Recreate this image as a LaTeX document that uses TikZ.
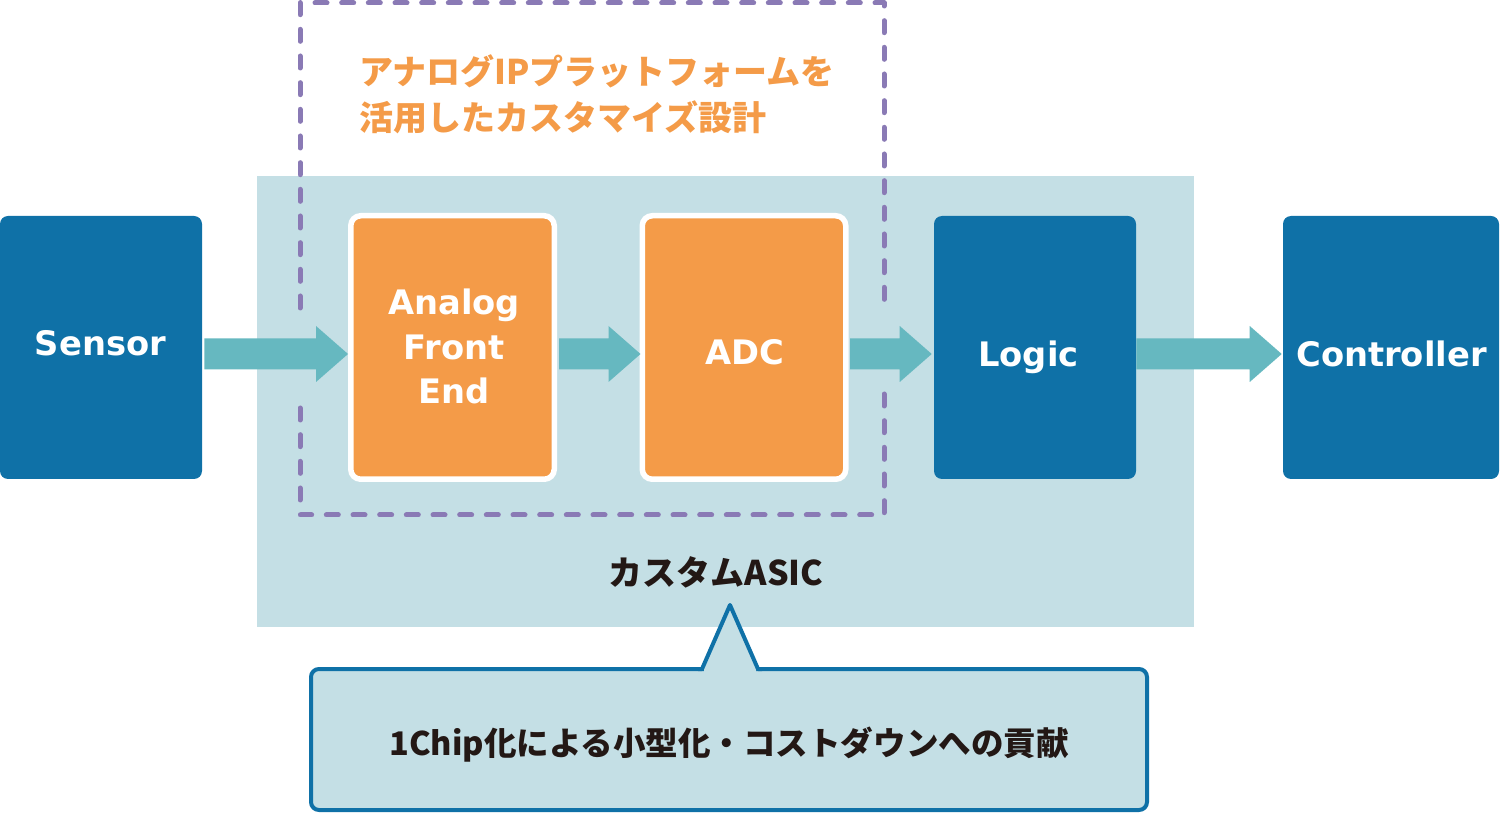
\documentclass[tikz,border=0pt]{standalone}
\usepackage{fontspec}
\newfontfamily\enfont{DejaVu Sans}
\newfontfamily\jpfont{Noto Sans CJK JP}
\usetikzlibrary{calc}
\definecolor{blk}{HTML}{0F71A7}
\definecolor{org}{HTML}{F49B48}
\definecolor{flowc}{HTML}{66B8C0}
\definecolor{asicc}{HTML}{C4DFE5}
\definecolor{pur}{HTML}{8A7AB5}
\definecolor{ink}{HTML}{231815}
\newdimen\px \px=0.75pt
% block arrow from #1 (start x) to #2 (tip), at the height of #2
\newcommand{\flowarrow}[2]{%
  \fill[flowc] let \p1=(#1), \p2=(#2) in
    (\x1,\y2+11.625pt) -- (\x2-24pt,\y2+11.625pt) -- (\x2-24pt,\y2+21pt) --
    (\x2,\y2) -- (\x2-24pt,\y2-21pt) -- (\x2-24pt,\y2-11.625pt) --
    (\x1,\y2-11.625pt) -- cycle;}
\begin{document}
\begin{tikzpicture}[x=0.75pt,y=-0.75pt,
  box/.style={rounded corners=8\px, inner sep=0pt, minimum height=263\px},
  bluebox/.style={box, fill=blk},
  orangebox/.style={box, fill=org, draw=white, line width=5.5\px,
    rounded corners=10\px, minimum height=263.5\px, minimum width=203.5\px},
  wlabel/.style={font=\enfont\bfseries\fontsize{25.3}{33.4}\selectfont,
    text=white, inner sep=0pt, anchor=base, align=center},
  jp/.style={font=\jpfont\bfseries\fontsize{25.5}{34.5}\selectfont, inner sep=0pt},
  dashbox/.style={draw=pur, line width=5\px, dash pattern=on 9pt off 11pt,
    line cap=round, line join=round},
  asicbox/.style={fill=asicc, inner sep=0pt, minimum width=937\px, minimum height=451\px},
  calloutbox/.style={draw=blk, fill=asicc, line width=4\px, rounded corners=8\px,
    minimum width=836\px, minimum height=141\px, inner sep=0pt,
    font=\jpfont\bfseries\fontsize{24.4}{30}\selectfont, text=ink,
    text height=31\px, text depth=0pt},
]
\useasboundingbox (0,0) rectangle (1500,816);

% custom ASIC background
\node[asicbox] (asic) at (725.5,401.5) {};

% analog IP platform dashed frame
\draw[dashbox] (300,308) -- (300,3) -- (884,3) -- (884,308)
               (884,394) -- (884,515) -- (300,515) -- (300,394);
\node[jp, text=org, anchor=base west, align=left] (iptext) at (359,131)
  {アナログIPプラットフォームを\\活用したカスタマイズ設計};

% blocks
\node[bluebox, minimum width=202\px] (sensor) at (101,347.5) {};
\node[orangebox] (afe) at (452.5,347.5) {};
\node[orangebox] (adc) at (744,347.5) {};
\node[bluebox, minimum width=202\px] (logic) at (1035,347.5) {};
\node[bluebox, minimum width=216\px] (ctrl) at (1391,347.5) {};

\node[wlabel] (sensortext) at (100.5,356) {Sensor};
\node[wlabel] (afetext) at (454,404) {Analog\\Front\\End};
\node[wlabel] (adctext) at (745,365) {ADC};
\node[wlabel] (logictext) at (1028.5,366.5) {Logic};
\node[wlabel] (ctrltext) at (1391.5,367) {Controller};

% flow arrows
\flowarrow{$(sensor.east)+(2,6.5)$}{$(afe.west)+(0,6.5)$}
\flowarrow{$(afe.east)+(2,6.5)$}{$(adc.west)+(1,6.5)$}
\flowarrow{$(adc.east)+(1.5,6.5)$}{$(logic.west)+(-2,6.5)$}
\flowarrow{$(logic.east)+(0,6.5)$}{$(ctrl.west)+(-1,6.5)$}

\node[jp, text=ink, anchor=base] (asictext) at (716,585) {カスタムASIC};

% callout
\node[calloutbox] (callout) at (729,739.5) {1Chip化による小型化・コストダウンへの貢献};
\fill[asicc] ($(callout.north)+(-25,5.5)$) -- ($(callout.north)+(-25,0)$)
  -- ($(callout.north)+(1,-60)$) -- ($(callout.north)+(27,0)$)
  -- ($(callout.north)+(27,5.5)$) -- cycle;
\draw[blk, line width=4\px, line join=round]
  ($(callout.north)+(-31,2)$) -- ($(callout.north)+(-27,2)$)
  -- ($(callout.north)+(1,-62)$) -- ($(callout.north)+(29,2)$)
  -- ($(callout.north)+(33,2)$);
\end{tikzpicture}
\end{document}
